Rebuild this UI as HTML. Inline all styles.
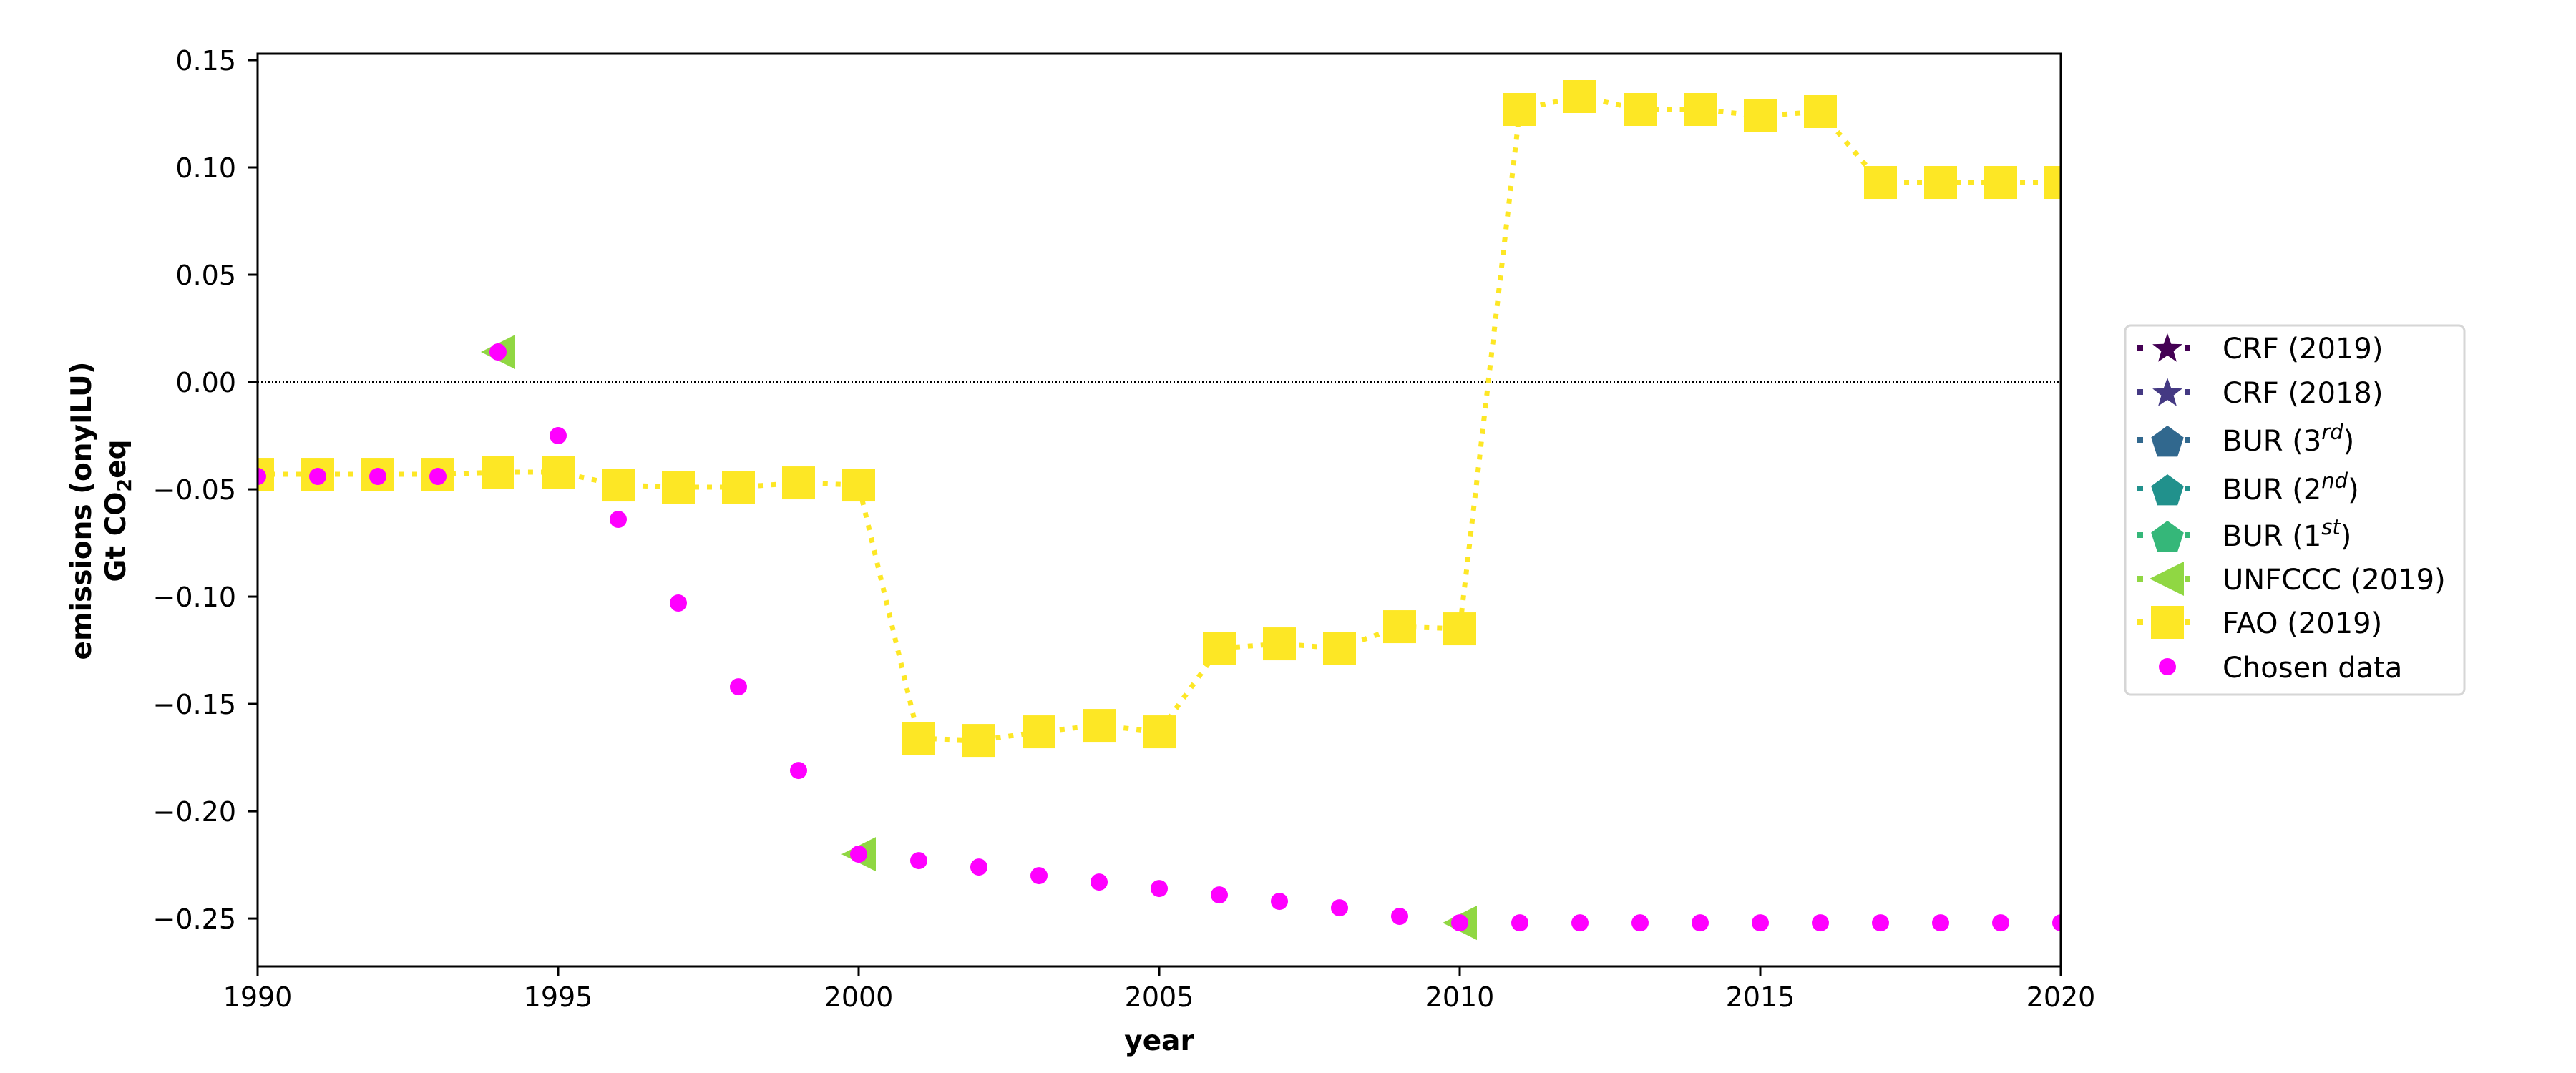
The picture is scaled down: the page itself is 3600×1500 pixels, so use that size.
<!DOCTYPE html>
<html><head><meta charset="utf-8"><style>
html,body{margin:0;padding:0;background:#fff;}
svg{display:block;font-family:"DejaVu Sans","Liberation Sans",sans-serif;}
</style></head><body>
<svg id="chart" width="3600" height="1500" viewBox="0 0 3600 1500" xmlns="http://www.w3.org/2000/svg">
<rect width="3600" height="1500" fill="#fff"/>
<g id="plot"></g>
<g id="axes"></g>
<g id="legend"></g>
</svg>
<script>
const years = [1990,1991,1992,1993,1994,1995,1996,1997,1998,1999,2000,2001,2002,2003,2004,2005,2006,2007,2008,2009,2010,2011,2012,2013,2014,2015,2016,2017,2018,2019,2020];
const faoValues = [-0.043,-0.043,-0.043,-0.043,-0.042,-0.042,-0.048,-0.049,-0.049,-0.047,-0.048,-0.166,-0.167,-0.163,-0.160,-0.163,-0.124,-0.122,-0.124,-0.114,-0.115,0.127,0.133,0.127,0.127,0.124,0.126,0.093,0.093,0.093,0.093];
const chosenValues = [-0.044,-0.044,-0.044,-0.044,0.014,-0.025,-0.064,-0.103,-0.142,-0.181,-0.220,-0.223,-0.226,-0.230,-0.233,-0.236,-0.239,-0.242,-0.245,-0.249,-0.252,-0.252,-0.252,-0.252,-0.252,-0.252,-0.252,-0.252,-0.252,-0.252,-0.252];
const unfcccYears = [1994,2000,2010];
const unfcccValues = [0.014,-0.220,-0.252];
const xTicks = [1990,1995,2000,2005,2010,2015,2020];
const yTicks = [-0.25,-0.20,-0.15,-0.10,-0.05,0.00,0.05,0.10,0.15];

const NS="http://www.w3.org/2000/svg";
const L=360,R=2880,T=75,B=1351;
const X0=1990,X1=2020,YTOP=0.153,YBOT=-0.2723;
const xs=v=>L+(v-X0)/(X1-X0)*(R-L);
const ys=v=>T+(YTOP-v)/(YTOP-YBOT)*(B-T);
function el(tag,attrs,parent){const e=document.createElementNS(NS,tag);for(const k in attrs)e.setAttribute(k,attrs[k]);parent.appendChild(e);return e;}
const plot=document.getElementById('plot'),axes=document.getElementById('axes'),leg=document.getElementById('legend');

let z=el('line',{x1:L,x2:R,y1:ys(0),y2:ys(0),stroke:'#000','stroke-width':2,'stroke-dasharray':'2,3'},plot);



const cp=el('clipPath',{id:'clip'},document.getElementById('chart'));
el('rect',{x:L,y:T,width:R-L,height:B-T},cp);
const g=el('g',{'clip-path':'url(#clip)'},plot);

let d=years.map((y,i)=>(i?'L':'M')+xs(y)+','+ys(faoValues[i])).join(' ');
let fl=el('path',{d:d,fill:'none',stroke:'#fde725','stroke-width':7,'stroke-dasharray':'7,11'},g);


years.forEach((y,i)=>{
 const s=el('rect',{x:xs(y)-23,y:ys(faoValues[i])-23,width:46,height:46,fill:'#fde725'},g);
 
 
});
unfcccYears.forEach((y,i)=>{
 const cx=xs(y),cy=ys(unfcccValues[i]);
 const t=el('polygon',{points:(cx-24)+','+cy+' '+(cx+24)+','+(cy-24)+' '+(cx+24)+','+(cy+24),fill:'#90d743'},g);
 
 
});
years.forEach((y,i)=>{
 const c=el('circle',{cx:xs(y),cy:ys(chosenValues[i]),r:12,fill:'#ff00ff'},g);
 
 
});

let fr=el('rect',{x:L,y:T,width:R-L,height:B-T,fill:'none',stroke:'#000','stroke-width':3},axes);


xTicks.forEach(v=>{
 el('line',{x1:xs(v),x2:xs(v),y1:B,y2:B+14,stroke:'#000','stroke-width':3},axes);
 const t=el('text',{x:xs(v),y:B+56,'font-size':38,'text-anchor':'middle',fill:'#000'},axes);
 t.textContent=v;
 
 
});
yTicks.forEach(v=>{
 el('line',{x1:L-14,x2:L,y1:ys(v),y2:ys(v),stroke:'#000','stroke-width':3},axes);
 const t=el('text',{x:L-30,y:ys(v)+14,'font-size':38,'text-anchor':'end',fill:'#000'},axes);
 t.textContent=(v<0?'\u2212':'')+Math.abs(v).toFixed(2);
 
 
});
let xl=el('text',{x:1620,y:1468,'font-size':39,'font-weight':'bold','text-anchor':'middle'},axes);
xl.textContent='year';


let yl=el('text',{transform:'translate(127,714) rotate(-90)','font-size':39,'font-weight':'bold','text-anchor':'middle'},axes);
yl.textContent='emissions (onyILU)';


let yl2=el('text',{transform:'translate(175,714) rotate(-90)','font-size':39,'font-weight':'bold','text-anchor':'middle'},axes);
yl2.innerHTML='Gt CO<tspan font-size="27" dy="8">2</tspan><tspan dy="-8">eq</tspan>';



let lb=el('rect',{x:2970,y:455,width:474,height:516,rx:8,fill:'#fff',stroke:'#d6d6d6','stroke-width':3},leg);


const legendItems=[
 ['CRF (2019)','#440154','star',486],['CRF (2018)','#443983','star',548],
 ['BUR (3<tspan font-style="italic" font-size="29" dy="-16">rd</tspan><tspan dy="16">)</tspan>','#31688e','pent',615],
 ['BUR (2<tspan font-style="italic" font-size="29" dy="-16">nd</tspan><tspan dy="16">)</tspan>','#21918c','pent',683],
 ['BUR (1<tspan font-style="italic" font-size="29" dy="-16">st</tspan><tspan dy="16">)</tspan>','#35b779','pent',748],
 ['UNFCCC (2019)','#90d743','tri',809],['FAO (2019)','#fde725','sq',870],['Chosen data','#ff00ff','dot',932]];
function starPts(cx,cy,ro,ri){let p=[];for(let i=0;i<10;i++){const a=-Math.PI/2+i*Math.PI/5,r=i%2?ri:ro;p.push((cx+r*Math.cos(a)).toFixed(1)+','+(cy+r*Math.sin(a)).toFixed(1));}return p.join(' ');}
function pentPts(cx,cy,r){let p=[];for(let i=0;i<5;i++){const a=-Math.PI/2+i*2*Math.PI/5;p.push((cx+r*Math.cos(a)).toFixed(1)+','+(cy+r*Math.sin(a)).toFixed(1));}return p.join(' ');}
legendItems.forEach(([lab,col,m,y])=>{
 const gi=el('g',{},leg);
 
 
 const cx=3029;
 if(m!=='dot'){el('rect',{x:2987,y:y-4,width:8,height:8,fill:col},gi);el('rect',{x:3053,y:y-4,width:8,height:8,fill:col},gi);}
 if(m==='star')el('polygon',{points:starPts(cx,y+2,22,9),fill:col},gi);
 if(m==='pent')el('polygon',{points:pentPts(cx,y+4,24),fill:col},gi);
 if(m==='tri')el('polygon',{points:(cx-25)+','+y+' '+(cx+23)+','+(y-24)+' '+(cx+23)+','+(y+24),fill:col},gi);
 if(m==='sq')el('rect',{x:cx-23,y:y-23,width:46,height:46,fill:col},gi);
 if(m==='dot')el('circle',{cx:cx,cy:y,r:12,fill:col},gi);
 const t=el('text',{x:3106,y:y+15,'font-size':40,fill:'#000'},gi);
 t.innerHTML=lab;
});
</script>
</body></html>
